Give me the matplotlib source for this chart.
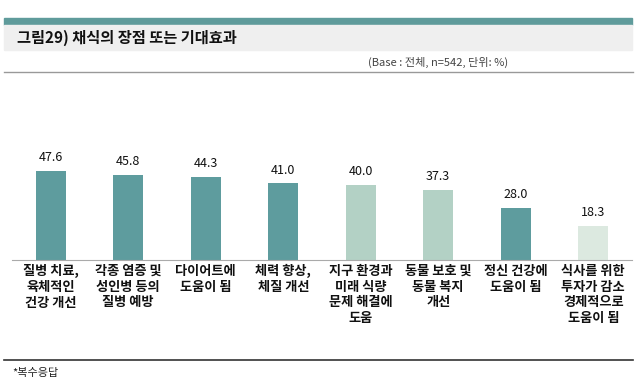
import numpy as np
import matplotlib.pyplot as plt
from matplotlib.patches import Rectangle
from matplotlib.lines import Line2D

plt.rcParams['font.family'] = ['Noto Sans CJK KR', 'DejaVu Sans']

# 데이터
labels = [
    "질병 치료,\n육체적인\n건강 개선",
    "각종 염증 및\n성인병 등의\n질병 예방",
    "다이어트에\n도움이 됨",
    "체력 향상,\n체질 개선",
    "지구 환경과\n미래 식량\n문제 해결에\n도움",
    "동물 보호 및\n동물 복지\n개선",
    "정신 건강에\n도움이 됨",
    "식사를 위한\n투자가 감소\n경제적으로\n도움이 됨",
]
values = [47.6, 45.8, 44.3, 41.0, 40.0, 37.3, 28.0, 18.3]
groups = ["dark", "dark", "dark", "dark", "light", "light", "dark", "pale"]

colors = {"dark": "#5E9C9E", "light": "#B3D1C5", "pale": "#DCE9E0"}

W, H = 640, 385
fig = plt.figure(figsize=(6.4, 3.85), dpi=100)


def px(x0, y0, w, h):
    # 픽셀 좌표(위에서부터) -> figure 비율
    return [x0 / W, 1 - (y0 + h) / H, w / W, h / H]


# 상단 띠와 제목 배경
fig.patches.append(Rectangle((4 / W, 1 - 25 / H), 628 / W, 7 / H,
                             transform=fig.transFigure, color="#5F9B9B", zorder=0))
fig.patches.append(Rectangle((4 / W, 1 - 50 / H), 628 / W, 25 / H,
                             transform=fig.transFigure, color="#EFEFEF", zorder=0))
fig.text(17 / W, 1 - 38 / H, "그림29) 채식의 장점 또는 기대효과",
         fontsize=11, fontweight="bold", va="center", ha="left", color="#111111")
fig.text(508 / W, 1 - 62 / H, "(Base : 전체, n=542, 단위: %)",
         fontsize=8, va="center", ha="right", color="#444444")
fig.lines.append(Line2D([4 / W, 633 / W], [1 - 72 / H, 1 - 72 / H],
                        transform=fig.transFigure, color="#999999", lw=1))

# 막대 그래프
ax = fig.add_axes(px(12, 148, 620, 112))
x = np.arange(len(values))
bar_colors = [colors[g] for g in groups]
bars = ax.bar(x, values, width=0.39, color=bar_colors)
for xi, v in zip(x, values):
    ax.annotate(f"{v:.1f}", (xi, v), xytext=(0, 5), textcoords="offset points",
                ha="center", va="bottom", fontsize=9, color="#111111")

ax.set_xlim(-0.5, len(values) - 0.5)
ax.set_ylim(0, 60)
ax.set_yticks([])
ax.set_xticks(x)
ax.set_xticklabels(labels, fontsize=9.5, fontweight="bold", linespacing=1.15,
                   color="#111111")
ax.tick_params(axis="x", length=0, pad=3)
for s in ["top", "left", "right"]:
    ax.spines[s].set_visible(False)
ax.spines["bottom"].set_color("#AAAAAA")
ax.patch.set_alpha(0)

# 하단 선과 주석
fig.lines.append(Line2D([4 / W, 633 / W], [1 - 360 / H, 1 - 360 / H],
                        transform=fig.transFigure, color="#333333", lw=1.2))
fig.text(12 / W, 1 - 373 / H, "*복수응답", fontsize=8, va="center", ha="left",
         color="#222222")

fig.savefig("out.png", dpi=100)
